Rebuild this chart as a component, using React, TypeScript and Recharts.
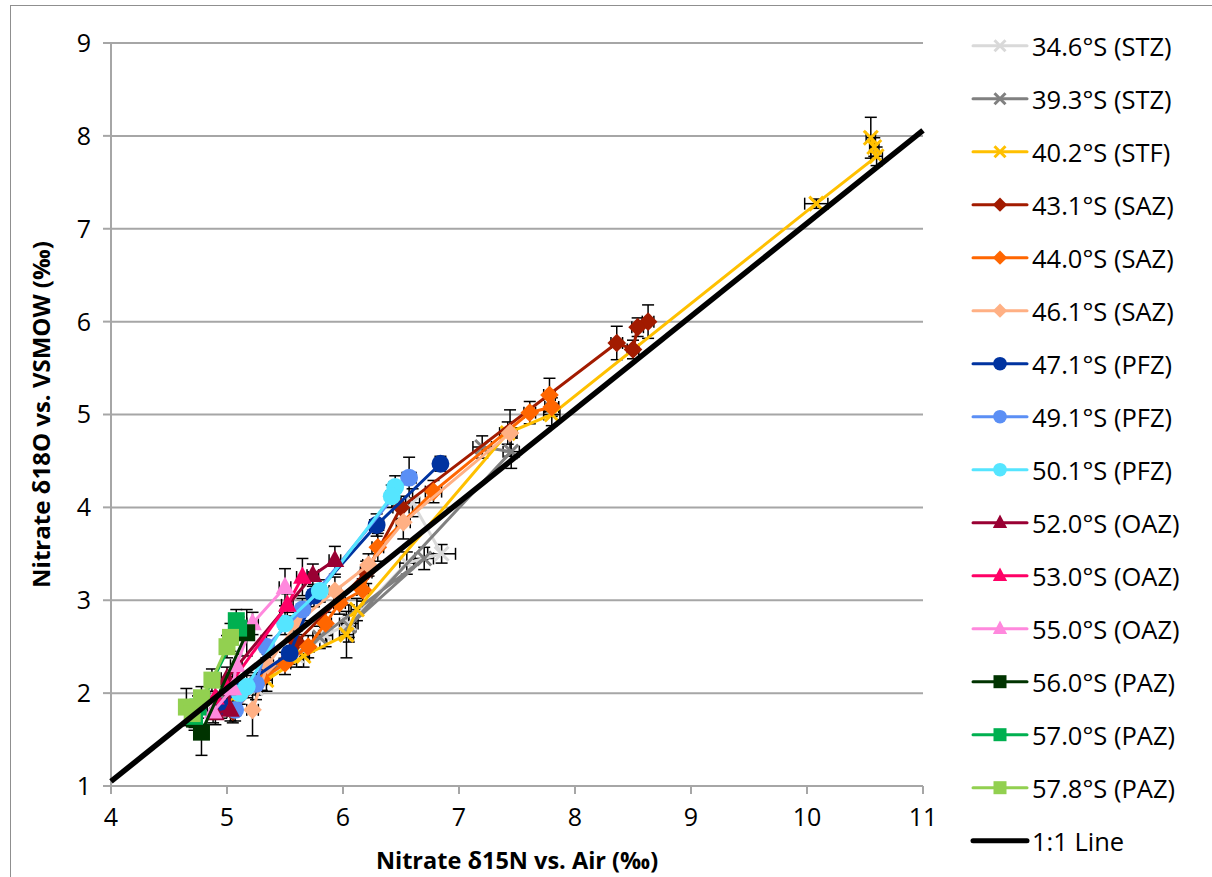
import React from 'react'
import { ScatterChart, Scatter, XAxis, YAxis, CartesianGrid, ErrorBar, Label } from 'recharts'

// each point: [δ15N, δ18O, err δ15N, err δ18O]
type Pt = [number, number, number, number]

const s346: Pt[] = [[5.25, 2.05, 0.05, 0.12], [5.6, 2.4, 0.05, 0.12], [5.85, 2.62, 0.06, 0.12], [6.05, 2.75, 0.08, 0.2], [6.55, 3.4, 0.06, 0.12], [6.85, 3.5, 0.12, 0.1], [6.6, 4.05, 0.06, 0.15]]
const s393: Pt[] = [[5.0, 1.9, 0.05, 0.12], [5.8, 2.6, 0.06, 0.12], [6.7, 3.45, 0.08, 0.12], [6.05, 2.72, 0.06, 0.12], [7.45, 4.6, 0.07, 0.18], [7.2, 4.65, 0.08, 0.12]]
const s402: Pt[] = [[10.55, 7.98, 0.04, 0.22], [10.58, 7.88, 0.04, 0.1], [10.6, 7.78, 0.05, 0.1], [10.08, 7.27, 0.1, 0.05], [7.8, 5.0, 0.07, 0.12], [7.42, 4.8, 0.07, 0.12], [6.12, 2.9, 0.05, 0.12], [6.03, 2.63, 0.06, 0.25], [5.66, 2.4, 0.05, 0.12], [5.34, 2.14, 0.05, 0.12], [5.05, 1.95, 0.05, 0.12]]
const s431: Pt[] = [[8.63, 6.0, 0.05, 0.18], [8.54, 5.94, 0.05, 0.1], [8.5, 5.7, 0.05, 0.1], [8.36, 5.77, 0.05, 0.18], [6.5, 4.0, 0.07, 0.12], [6.2, 3.3, 0.05, 0.12], [5.6, 2.55, 0.05, 0.12], [5.05, 1.8, 0.05, 0.12]]
const s440: Pt[] = [[7.78, 5.21, 0.05, 0.18], [7.8, 5.08, 0.06, 0.1], [7.61, 5.02, 0.05, 0.12], [6.78, 4.17, 0.07, 0.12], [6.3, 3.57, 0.05, 0.15], [6.17, 3.11, 0.05, 0.12], [5.97, 2.97, 0.05, 0.12], [5.85, 2.75, 0.05, 0.12], [5.7, 2.5, 0.05, 0.12], [5.5, 2.32, 0.05, 0.12], [5.3, 2.15, 0.05, 0.12]]
const s461: Pt[] = [[7.44, 4.8, 0.06, 0.25], [6.52, 3.84, 0.06, 0.18], [6.22, 3.38, 0.05, 0.12], [5.93, 3.1, 0.05, 0.15], [5.6, 2.75, 0.05, 0.12], [5.35, 2.3, 0.05, 0.12], [5.22, 1.82, 0.05, 0.28]]
const s471: Pt[] = [[6.84, 4.47, 0.05, 0.08], [6.29, 3.81, 0.06, 0.12], [5.75, 3.05, 0.05, 0.12], [5.54, 2.43, 0.05, 0.12], [5.1, 2.05, 0.05, 0.12], [4.95, 1.85, 0.05, 0.12]]
const s491: Pt[] = [[6.57, 4.32, 0.06, 0.22], [5.65, 2.9, 0.05, 0.12], [5.34, 2.5, 0.05, 0.12], [5.25, 2.1, 0.05, 0.12], [5.07, 1.82, 0.05, 0.12]]
const s501: Pt[] = [[6.45, 4.22, 0.05, 0.12], [6.42, 4.12, 0.05, 0.12], [5.8, 3.1, 0.05, 0.12], [5.5, 2.75, 0.05, 0.12], [5.17, 2.07, 0.05, 0.12], [5.11, 2.0, 0.05, 0.12]]
const s520: Pt[] = [[5.93, 3.43, 0.05, 0.15], [5.74, 3.27, 0.05, 0.12], [5.0, 2.16, 0.05, 0.12], [5.03, 1.82, 0.05, 0.12], [4.9, 1.78, 0.05, 0.12]]
const s530: Pt[] = [[5.65, 3.25, 0.05, 0.2], [5.52, 2.95, 0.05, 0.12], [5.0, 2.05, 0.05, 0.12], [4.9, 1.95, 0.05, 0.12]]
const s550: Pt[] = [[5.5, 3.14, 0.05, 0.2], [5.22, 2.75, 0.05, 0.12], [5.08, 2.3, 0.05, 0.12], [5.05, 2.05, 0.05, 0.12], [4.88, 1.8, 0.05, 0.12]]
const s560: Pt[] = [[5.17, 2.65, 0.05, 0.25], [4.78, 1.58, 0.05, 0.25], [4.72, 1.72, 0.05, 0.12]]
const s570: Pt[] = [[5.08, 2.78, 0.05, 0.12], [5.1, 2.7, 0.05, 0.12], [4.72, 1.75, 0.05, 0.12], [4.75, 1.85, 0.05, 0.12]]
const s578: Pt[] = [[5.03, 2.6, 0.05, 0.15], [5.0, 2.5, 0.05, 0.12], [4.87, 2.14, 0.05, 0.12], [4.78, 1.95, 0.05, 0.12], [4.65, 1.85, 0.05, 0.2], [4.7, 1.78, 0.05, 0.12]]

const oneToOne = [[4, 1.05], [11, 8.06]]

const xTicks = [4, 5, 6, 7, 8, 9, 10, 11]
const yTicks = [1, 2, 3, 4, 5, 6, 7, 8, 9]

const SERIES = [
  { name: '34.6°S (STZ)', pts: s346, color: '#d9d9d9', mark: 'x' },
  { name: '39.3°S (STZ)', pts: s393, color: '#808080', mark: 'x' },
  { name: '40.2°S (STF)', pts: s402, color: '#ffc000', mark: 'x' },
  { name: '43.1°S (SAZ)', pts: s431, color: '#a21b00', mark: 'diamond' },
  { name: '44.0°S (SAZ)', pts: s440, color: '#ff6600', mark: 'diamond' },
  { name: '46.1°S (SAZ)', pts: s461, color: '#ffb084', mark: 'diamond' },
  { name: '47.1°S (PFZ)', pts: s471, color: '#0033a0', mark: 'circle' },
  { name: '49.1°S (PFZ)', pts: s491, color: '#5b8ff5', mark: 'circle' },
  { name: '50.1°S (PFZ)', pts: s501, color: '#55e5ff', mark: 'circle' },
  { name: '52.0°S (OAZ)', pts: s520, color: '#990033', mark: 'triangle' },
  { name: '53.0°S (OAZ)', pts: s530, color: '#ff0066', mark: 'triangle' },
  { name: '55.0°S (OAZ)', pts: s550, color: '#ff88dd', mark: 'triangle' },
  { name: '56.0°S (PAZ)', pts: s560, color: '#003300', mark: 'square' },
  { name: '57.0°S (PAZ)', pts: s570, color: '#00b050', mark: 'square' },
  { name: '57.8°S (PAZ)', pts: s578, color: '#92d050', mark: 'square' },
]

const FONT = '"Open Sans", "Noto Sans", sans-serif'
const GRID = '#a6a6a6'

function Marker({ kind, cx, cy, color, r }: { kind: string; cx: number; cy: number; color: string; r: number }) {
  if (kind === 'x')
    return <path d={`M${cx - r},${cy - r}L${cx + r},${cy + r}M${cx - r},${cy + r}L${cx + r},${cy - r}`} stroke={color} strokeWidth={3} fill="none" />
  if (kind === 'diamond')
    return <polygon points={`${cx},${cy - r * 1.1} ${cx + r * 1.1},${cy} ${cx},${cy + r * 1.1} ${cx - r * 1.1},${cy}`} fill={color} />
  if (kind === 'circle') return <circle cx={cx} cy={cy} r={r * 1.05} fill={color} />
  if (kind === 'triangle')
    return <polygon points={`${cx},${cy - r * 1.25} ${cx + r * 1.1},${cy + r * 0.8} ${cx - r * 1.1},${cy + r * 0.8}`} fill={color} />
  if (kind === 'square') return <rect x={cx - r} y={cy - r} width={r * 2} height={r * 2} fill={color} />
  return <g />
}

function SideLegend() {
  const items = [...SERIES.map(s => ({ name: s.name, color: s.color, mark: s.mark })), { name: '1:1 Line', color: '#000', mark: 'line' }]
  return (
    <svg width={252} height={877} style={{ position: 'absolute', left: 960, top: 0 }}>
      {items.map((it, i) => {
        const y = 45.7 + i * 53
        return (
          <g key={it.name}>
            <line x1={13} x2={67} y1={y} y2={y} stroke={it.color} strokeWidth={it.mark === 'line' ? 5 : 3} strokeLinecap="round" />
            {it.mark !== 'line' && <Marker kind={it.mark} cx={40} cy={y} color={it.color} r={it.mark === 'x' ? 5.5 : 6.5} />}
            <text x={72} y={y} dominantBaseline="central" fontFamily={FONT} fontSize={25.5} fill="#000">{it.name}</text>
          </g>
        )
      })}
    </svg>
  )
}

export default function App() {
  return (
    <div style={{ position: 'absolute', left: 0, top: 0, width: 1212, height: 877, overflow: 'hidden', background: '#fff' }}>
      <div style={{ position: 'absolute', left: 10, top: 5, width: 1300, height: 1000, border: '1.5px solid #8f8f8f' }} />
      <div style={{ position: 'absolute', left: 0, top: 0 }}>
        <ScatterChart width={1212} height={877} margin={{ top: 43, right: 289, bottom: 0, left: 0 }}>
          <CartesianGrid vertical={false} stroke={GRID} strokeWidth={2} />
          <XAxis type="number" dataKey="x" domain={[4, 11]} ticks={xTicks} height={91}
            stroke={GRID} strokeWidth={2} tickSize={8} tickMargin={14}
            tick={{ fill: '#000', fontSize: 25, fontFamily: FONT }}>
            <Label value="Nitrate δ15N vs. Air (‰)" position="insideBottom" offset={8}
              style={{ fontWeight: 700, fontSize: 23.5, fontFamily: FONT, fill: '#000' }} />
          </XAxis>
          <YAxis type="number" dataKey="y" domain={[1, 9]} ticks={yTicks} width={111}
            stroke={GRID} strokeWidth={2} tickSize={8} tickMargin={12}
            tick={{ fill: '#000', fontSize: 25, fontFamily: FONT }}>
            <Label content={({ viewBox }: any) => {
              const cx = 40, cy = viewBox.y + viewBox.height / 2
              return (
                <text x={cx} y={cy} transform={`rotate(-90 ${cx} ${cy})`} textAnchor="middle" dominantBaseline="central"
                  fontFamily={FONT} fontSize={24} fontWeight={700} fill="#000">Nitrate δ18O vs. VSMOW (‰)</text>
              )
            }} />
          </YAxis>
          {SERIES.map(s => (
            <Scatter key={s.name} name={s.name} isAnimationActive={false}
              data={s.pts.map(p => ({ x: p[0], y: p[1], ex: p[2], ey: p[3] }))}
              line={{ stroke: s.color, strokeWidth: 3 }} lineType="joint"
              shape={(p: any) => <Marker kind={s.mark} cx={p.cx} cy={p.cy} color={s.color} r={s.mark === 'x' ? 7 : 8.5} />}>
              <ErrorBar dataKey="ey" direction="y" width={6} stroke="#000" strokeWidth={1.5} isAnimationActive={false} />
              <ErrorBar dataKey="ex" direction="x" width={6} stroke="#000" strokeWidth={1.5} isAnimationActive={false} />
            </Scatter>
          ))}
          <Scatter name="1:1 Line" isAnimationActive={false}
            data={oneToOne.map(p => ({ x: p[0], y: p[1] }))}
            line={{ stroke: '#000', strokeWidth: 5.5 }} lineType="joint" shape={() => <g />} />
        </ScatterChart>
      </div>
      <SideLegend />
    </div>
  )
}
